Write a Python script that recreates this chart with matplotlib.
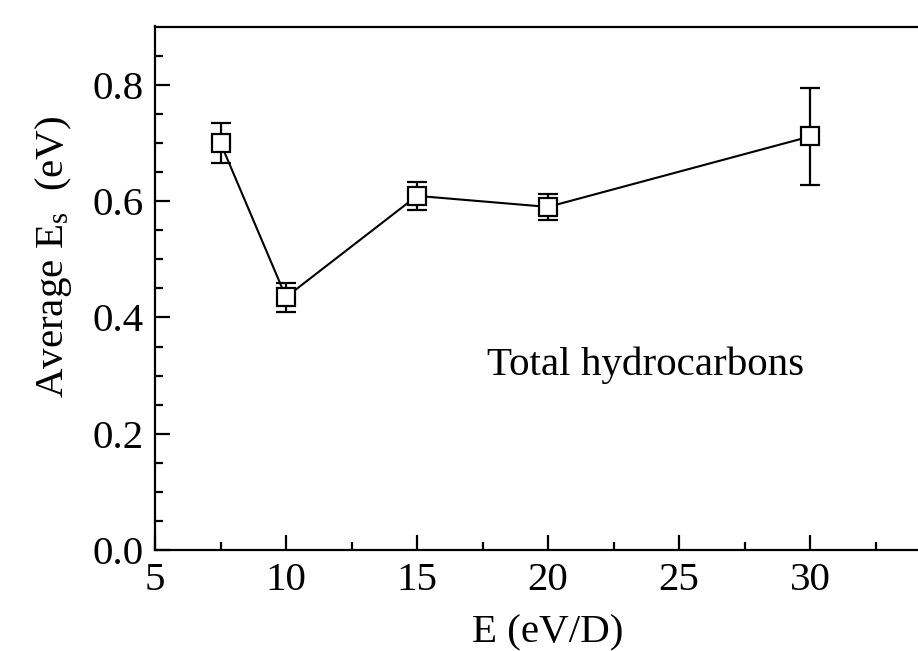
import matplotlib
matplotlib.use("Agg")
import matplotlib.pyplot as plt
import numpy as np
from matplotlib.ticker import MultipleLocator, FixedLocator

plt.rcParams['font.family'] = ['Liberation Serif', 'DejaVu Serif']
plt.rcParams['mathtext.fontset'] = 'custom'
plt.rcParams['mathtext.rm'] = 'Liberation Serif'
plt.rcParams['mathtext.it'] = 'Liberation Serif:italic'

energy = [7.5, 10, 15, 20, 30]
avg_es = [0.700, 0.435, 0.609, 0.590, 0.711]
err = [0.034, 0.025, 0.024, 0.022, 0.083]
xtick_vals = [5, 10, 15, 20, 25, 30]
xtick_labels = ['5', '10', '15', '20', '25', '30']

W, H = 918, 651
fig = plt.figure(figsize=(W / 100, H / 100), dpi=100)
left, right, top, bottom = 155, 941, 26.5, 550.3
ax = fig.add_axes([left / W, 1 - bottom / H, (right - left) / W, (bottom - top) / H])

ax.errorbar(energy, avg_es, yerr=err, fmt='none', ecolor='black', elinewidth=1.6,
            capsize=7, capthick=1.6, zorder=2)
ax.plot(energy, avg_es, color='black', lw=1.5, marker='s', markersize=12.5,
        markerfacecolor='white', markeredgecolor='black', markeredgewidth=1.6, zorder=3)

ax.set_xlim(5, 35)
ax.set_ylim(0, 0.9)
ax.xaxis.set_minor_locator(MultipleLocator(2.5))
ax.yaxis.set_major_locator(MultipleLocator(0.2))
ax.yaxis.set_minor_locator(FixedLocator(np.arange(1, 18) * 0.05))
ax.set_xticks(xtick_vals)
ax.set_xticklabels(xtick_labels)
ax.yaxis.set_major_formatter(matplotlib.ticker.FormatStrFormatter('%.1f'))

for s in ax.spines.values():
    s.set_linewidth(1.6)
ax.tick_params(which='both', direction='in', top=False, right=False, width=1.6,
               labelsize=29.5)
ax.tick_params(which='major', length=10.8)
ax.tick_params(which='minor', length=5.8)
ax.tick_params(axis='y', pad=8)
ax.tick_params(axis='x', pad=8.5)

ax.set_xlabel('E (eV/D)', fontsize=29.5, labelpad=11)
fig.text(54 / W, 1 - 257 / H, r'Average E$_{\rm s}$  (eV)', rotation=90,
         ha='center', va='center', fontsize=29.5)

ax.text(17.67, 0.301, 'Total hydrocarbons', fontsize=29.5, ha='left', va='baseline')

fig.savefig('out.png', dpi=100)
